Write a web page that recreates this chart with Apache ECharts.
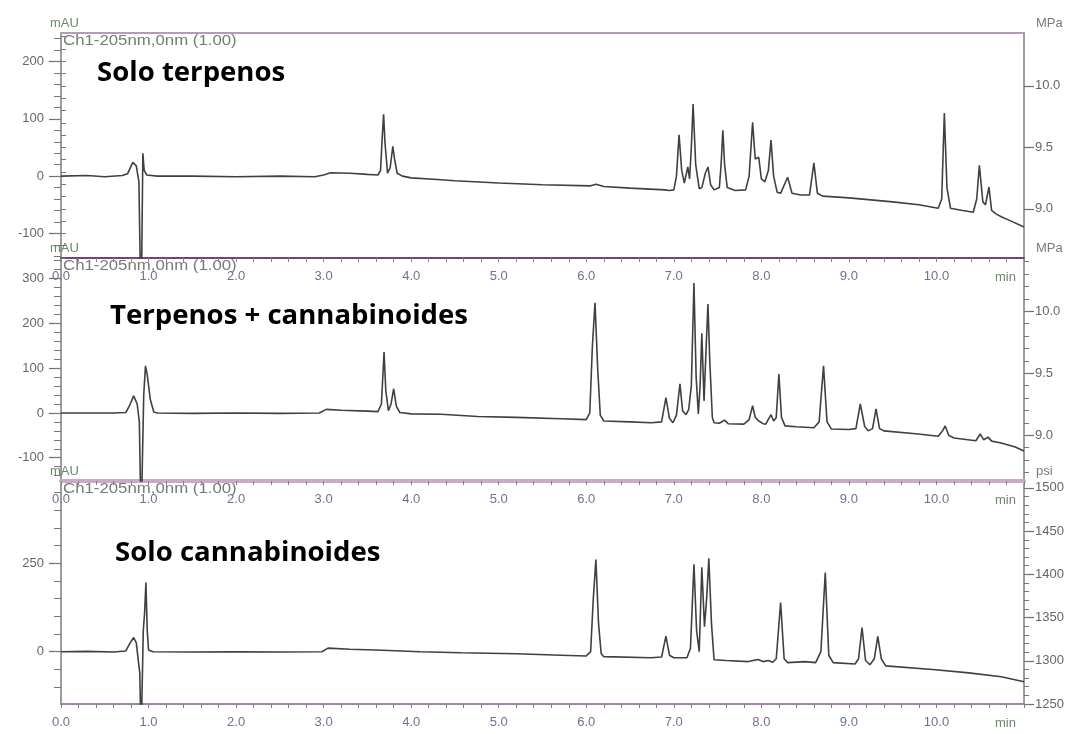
<!DOCTYPE html>
<html><head><meta charset="utf-8">
<script src="https://cdn.jsdelivr.net/npm/echarts@6/dist/echarts.min.js"></script>
<style>html,body{margin:0;padding:0;background:#fff}#c{width:1077px;height:734px}</style>
</head><body><div id="c"></div>
<script>
// ---- data (time in min, absorbance in mAU) ----
const panelTitles = ['Solo terpenos', 'Terpenos + cannabinoides', 'Solo cannabinoides'];
const channelLabel = 'Ch1-205nm,0nm (1.00)';
const timeRange = [0, 11];

const terpenos = [
 [0,0],[0.3,1],[0.5,-1],[0.7,1],[0.76,4],[0.82,24],[0.86,18],[0.89,-10],[0.915,-250],[0.925,-250],[0.935,40],[0.95,10],[0.98,2],[1.1,0],[1.5,0],[2.0,-1],[2.5,0],[2.9,-1],[3.0,2],[3.08,6],[3.3,5],[3.5,3],[3.62,2],
 [3.65,10],[3.67,70],[3.685,108],[3.70,60],[3.73,5],[3.76,15],[3.79,52],[3.81,30],[3.84,5],[3.9,0],[4.0,-3],[4.3,-6],[4.5,-8],[5.0,-12],[5.5,-15],[6.05,-17],[6.11,-14],[6.2,-18],[6.5,-21],[6.9,-24],[6.95,-25],
 [7.00,-24],[7.03,0],[7.06,72],[7.09,10],[7.12,-12],[7.16,16],[7.18,-5],[7.20,50],[7.22,126],[7.25,20],[7.29,-22],[7.32,-20],[7.36,5],[7.39,16],[7.42,-15],[7.46,-24],[7.52,-20],[7.54,20],[7.56,80],[7.58,20],[7.61,-20],[7.7,-25],[7.82,-24],[7.86,0],[7.90,94],[7.93,30],[7.97,33],[8.0,-5],[8.04,-10],[8.08,10],[8.11,63],[8.14,0],[8.18,-28],[8.22,-30],[8.30,-2],[8.35,-30],[8.45,-33],[8.55,-33],[8.60,23],[8.64,-30],[8.7,-35],[9.0,-38],[9.5,-45],[9.8,-50],[10.02,-56],[10.06,-40],[10.09,110],[10.12,-20],[10.16,-56],[10.3,-60],[10.42,-63],[10.46,-40],[10.49,19],[10.53,-45],[10.56,-50],[10.60,-19],[10.63,-60],[10.68,-66],[10.74,-71],[10.86,-79],[11.0,-89]
];
const mezcla = [
 [0,0],[0.3,0],[0.6,0],[0.74,1],[0.78,15],[0.83,38],[0.87,20],[0.895,-20],[0.915,-250],[0.93,-250],[0.945,40],[0.965,105],[0.985,85],[1.02,30],[1.06,2],[1.1,0],[1.5,-1],[2.0,0],[2.5,-1],[2.95,0],[3.03,8],[3.2,6],[3.5,4],[3.62,3],
 [3.66,20],[3.69,136],[3.71,50],[3.74,5],[3.77,20],[3.80,54],[3.83,15],[3.87,1],[4.0,-2],[4.34,-3],[4.76,-8],[5.2,-10],[5.71,-13],[6.0,-15],[6.04,0],[6.07,150],[6.10,246],[6.13,100],[6.16,-5],[6.2,-18],[6.5,-20],[6.74,-22],[6.86,-20],[6.91,34],[6.95,-12],[6.99,-22],[7.03,-5],[7.07,65],[7.10,5],[7.14,-4],[7.17,8],[7.20,60],[7.23,290],[7.255,80],[7.28,-2],[7.30,60],[7.32,178],[7.345,27],[7.37,150],[7.39,243],[7.41,120],[7.44,-10],[7.46,-22],[7.52,-23],[7.58,-16],[7.62,-24],[7.8,-25],[7.86,-15],[7.90,16],[7.93,-10],[7.97,-18],[8.02,-24],[8.05,-25],[8.11,-4],[8.14,-18],[8.17,-10],[8.20,87],[8.23,-10],[8.27,-29],[8.4,-31],[8.6,-33],[8.66,-20],[8.71,105],[8.75,-20],[8.8,-36],[9.0,-37],[9.08,-35],[9.13,20],[9.18,-30],[9.22,-40],[9.27,-35],[9.31,9],[9.35,-35],[9.4,-40],[9.79,-47],[10.02,-52],[10.07,-40],[10.10,-29],[10.14,-50],[10.2,-56],[10.45,-62],[10.50,-47],[10.54,-60],[10.59,-54],[10.63,-63],[10.74,-67],[10.9,-76],[11.0,-85]
];
const cannabinoides = [
 [0,0],[0.3,1],[0.6,-1],[0.74,2],[0.79,25],[0.83,40],[0.86,25],[0.89,-40],[0.90,-60],[0.915,-250],[0.93,-250],[0.94,60],[0.955,110],[0.97,196],[0.985,60],[1.0,5],[1.05,0],[1.5,-1],[2.0,0],[2.5,-1],[2.98,0],[3.05,10],[3.3,7],[3.6,5],[4.1,0],[4.57,-3],[5.2,-6],[5.71,-10],[6.0,-12],[6.05,0],[6.08,150],[6.11,261],[6.14,80],[6.17,-5],[6.2,-14],[6.74,-17],[6.86,-15],[6.91,44],[6.95,-10],[7.0,-17],[7.15,-17],[7.19,10],[7.23,247],[7.26,60],[7.29,0],[7.32,239],[7.35,71],[7.375,150],[7.40,264],[7.43,80],[7.46,-23],[7.6,-25],[7.85,-28],[7.96,-22],[8.02,-28],[8.08,-25],[8.13,-30],[8.17,-20],[8.22,139],[8.26,-20],[8.3,-31],[8.5,-28],[8.62,-31],[8.68,0],[8.73,224],[8.77,-10],[8.82,-31],[9.07,-35],[9.11,-20],[9.15,68],[9.19,-25],[9.24,-37],[9.29,-20],[9.33,43],[9.37,-20],[9.42,-40],[9.99,-51],[10.37,-60],[10.74,-71],[11.0,-85]
];

// axis ranges and tick labels
const mauRanges = [[-143, 250], [-152, 346], [-148, 483]];
const mauTicks = [[-100, 0, 100, 200], [-100, 0, 100, 200, 300], [0, 250]];
const mauMinorStep = [20, 20, 50];
const pressUnits = ['MPa', 'MPa', 'psi'];
const pressRanges = [[8.60, 10.43], [8.63, 10.43], [1250, 1508]];
const pressTicks = [[9.0, 9.5, 10.0], [9.0, 9.5, 10.0], [1250, 1300, 1350, 1400, 1450, 1500]];
const pressMinorStep = [0.1, 0.1, 10];

// ---- layout ----
const gridTops = [33, 258, 481];
const gridHeights = [225, 223, 223];
const xLineColors = ['#6e466e', '#c9abc9', '#a283a6'];
const xLineWidths = [2, 4, 2];

function stepsIn(range, step) {
  const out = [];
  const k0 = Math.ceil(range[0] / step - 1e-9), k1 = Math.floor(range[1] / step + 1e-9);
  for (let k = k0; k <= k1; k++) out.push(Math.round(k * step * 1000) / 1000);
  return out;
}

const grids = [], xAxes = [], yAxes = [], series = [], graphics = [];
const datasets = [terpenos, mezcla, cannabinoides];
const labelFont = 'Liberation Sans, Arial, sans-serif';

for (let i = 0; i < 3; i++) {
  grids.push({left: 61, right: 53, top: gridTops[i], height: gridHeights[i]});
  xAxes.push({
    type: 'value', gridIndex: i, min: timeRange[0], max: timeRange[1], interval: 1,
    axisLine: {onZero: false, lineStyle: {color: xLineColors[i], width: xLineWidths[i]}},
    axisTick: {length: 4, lineStyle: {color: '#8c7a8c'}},
    minorTick: {show: true, splitNumber: 5, length: 4, lineStyle: {color: '#8c7a8c'}},
    axisLabel: {formatter: v => v.toFixed(1), showMaxLabel: false, color: '#7a6c90', fontSize: 13, margin: 12, fontFamily: labelFont},
    splitLine: {show: false}, minorSplitLine: {show: false}
  });
  const base = yAxes.length;
  const mr = mauRanges[i];
  yAxes.push({
    type: 'value', gridIndex: i, position: 'left', min: mr[0], max: mr[1],
    axisLine: {show: true, onZero: false, lineStyle: {color: '#7c7c7c', width: 1.5}},
    axisTick: {show: true, customValues: mauTicks[i], length: 12, lineStyle: {color: '#6c6c6c', width: 1.2}},
    axisLabel: {customValues: mauTicks[i], color: '#666', fontSize: 13, margin: 17, fontFamily: labelFont},
    splitLine: {show: false}
  });
  yAxes.push({
    type: 'value', gridIndex: i, position: 'left', min: mr[0], max: mr[1],
    axisLine: {show: false},
    axisTick: {show: true, customValues: stepsIn(mr, mauMinorStep[i]), length: 7, lineStyle: {color: '#777'}},
    axisLabel: {show: false}, splitLine: {show: false}
  });
  const pr = pressRanges[i];
  yAxes.push({
    type: 'value', gridIndex: i, position: 'right', min: pr[0], max: pr[1],
    axisLine: {show: true, onZero: false, lineStyle: {color: '#7c7c7c', width: 1.5}},
    axisTick: {show: true, customValues: pressTicks[i], length: 10, lineStyle: {color: '#6c6c6c', width: 1.2}},
    axisLabel: {customValues: pressTicks[i], color: '#666', fontSize: 13, margin: 11, fontFamily: labelFont,
      formatter: v => (i < 2 ? v.toFixed(1) : String(Math.round(v)))},
    splitLine: {show: false}
  });
  yAxes.push({
    type: 'value', gridIndex: i, position: 'right', min: pr[0], max: pr[1],
    axisLine: {show: false},
    axisTick: {show: true, customValues: stepsIn(pr, pressMinorStep[i]), length: 5, lineStyle: {color: '#777'}},
    axisLabel: {show: false}, splitLine: {show: false}
  });
  series.push({
    type: 'line', xAxisIndex: i, yAxisIndex: base, data: datasets[i],
    showSymbol: false, symbol: 'none', clip: true,
    lineStyle: {color: '#404040', width: 1.6}
  });
  // texts
  graphics.push({type: 'text', x: 63, y: gridTops[i] + 8, scaleX: 1.2,
    style: {text: channelLabel, font: '14px ' + labelFont, fill: '#737d73', verticalAlign: 'middle'}});
  graphics.push({type: 'text', x: 50, y: gridTops[i] - 10,
    style: {text: 'mAU', font: '13px ' + labelFont, fill: '#6c8a6c', verticalAlign: 'middle'}});
  graphics.push({type: 'text', x: 1036, y: gridTops[i] - 10,
    style: {text: pressUnits[i], font: '13px ' + labelFont, fill: '#7a7a7a', verticalAlign: 'middle'}});
  graphics.push({type: 'text', x: 995, y: gridTops[i] + gridHeights[i] + 19,
    style: {text: 'min', font: '13px ' + labelFont, fill: '#6c8a6c', verticalAlign: 'middle'}});
}
// top border of first panel
xAxes.push({
  type: 'value', gridIndex: 0, position: 'top', min: timeRange[0], max: timeRange[1],
  axisLine: {onZero: false, lineStyle: {color: '#b49cb4', width: 2}},
  axisTick: {show: false}, axisLabel: {show: false}, splitLine: {show: false}
});

const titlePos = [[97, 74], [110, 317], [115, 554]];
for (let i = 0; i < 3; i++) {
  graphics.push({type: 'text', x: titlePos[i][0], y: titlePos[i][1], scaleX: 1.06,
    style: {text: panelTitles[i], font: 'bold 26px "Open Sans"', fill: '#000', verticalAlign: 'middle'}});
}

const chart = echarts.init(document.getElementById('c'));
chart.setOption({
  animation: false,
  grid: grids, xAxis: xAxes, yAxis: yAxes, series: series, graphic: graphics
});
</script>
</body></html>
